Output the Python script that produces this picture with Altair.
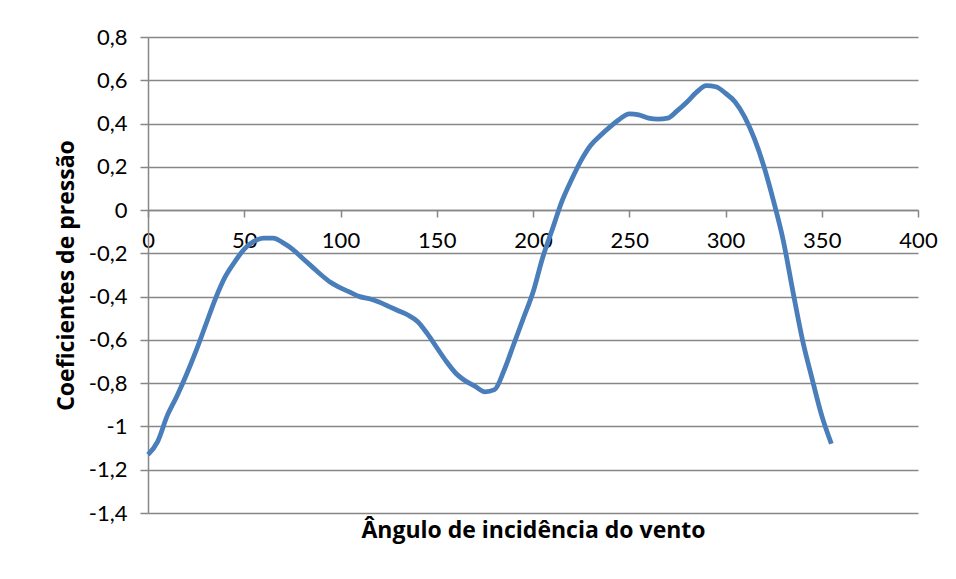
import altair as alt
import pandas as pd

angles = list(range(0, 360, 5))
cp = [-1.13, -1.07, -0.95, -0.86, -0.76, -0.65, -0.53, -0.41, -0.31, -0.24,
      -0.18, -0.145, -0.13, -0.13, -0.15, -0.18, -0.22, -0.26, -0.30, -0.335,
      -0.36, -0.38, -0.40, -0.41, -0.425, -0.445, -0.465, -0.485, -0.515, -0.57,
      -0.635, -0.70, -0.755, -0.79, -0.815, -0.84, -0.83, -0.74, -0.62, -0.50,
      -0.38, -0.22, -0.09, 0.04, 0.14, 0.23, 0.30, 0.345, 0.385, 0.42,
      0.445, 0.44, 0.425, 0.42, 0.425, 0.46, 0.50, 0.545, 0.575, 0.57,
      0.54, 0.50, 0.43, 0.33, 0.20, 0.04, -0.14, -0.375, -0.60, -0.78,
      -0.95, -1.08]

x_ticks = [0, 50, 100, 150, 200, 250, 300, 350, 400]
y_ticks = [-1.4, -1.2, -1.0, -0.8, -0.6, -0.4, -0.2, 0.0, 0.2, 0.4, 0.6, 0.8]

df = pd.DataFrame({"angle": angles, "cp": cp})

FONT = "Lato"
TFONT = "Open Sans"
GRID = "#878787"
label_expr = "replace(replace(format(datum.value, '.1~f'), '.', ','), '\u2212', '-')"

chart = alt.Chart(df).mark_line(
    color="#4A7EBB", strokeWidth=4.8, interpolate="monotone"
).encode(
    x=alt.X(
        "angle:Q",
        scale=alt.Scale(domain=[0, 400], nice=False),
        axis=alt.Axis(
            values=x_ticks, grid=False, offset=-303,
            title="Ângulo de incidência do vento",
            titleFont=TFONT, titleFontSize=23, titleFontWeight="bold", titleColor="#000000",
            titleY=320, titleBaseline="middle",
            labelFont=FONT, labelFontSize=22, labelColor="#000000",
            labelPadding=13, tickSize=7, tickColor=GRID, domainColor=GRID,
            domainWidth=1.5, tickWidth=1.5, labelFlush=False,
        ),
    ),
    y=alt.Y(
        "cp:Q",
        scale=alt.Scale(domain=[-1.4, 0.8], nice=False, zero=False),
        axis=alt.Axis(
            values=y_ticks, grid=True, gridColor=GRID, gridWidth=1.5,
            labelExpr=label_expr,
            title="Coeficientes de pressão",
            titleFont=TFONT, titleFontSize=23, titleFontWeight="bold", titleColor="#000000",
            titlePadding=10,
            labelFont=FONT, labelFontSize=22, labelColor="#000000",
            labelPadding=13, tickSize=8, tickColor=GRID, domainColor=GRID,
            domainWidth=1.5, tickWidth=1.5, labelFlush=False,
        ),
    ),
).properties(
    width=770, height=476,
    autosize=alt.AutoSizeParams(type="none"),
    padding={"left": 148, "top": 37, "right": 38, "bottom": 66},
    background="#ffffff",
).configure_view(stroke=None)

chart.save("out.html", embed_options={"renderer": "svg", "actions": False})
